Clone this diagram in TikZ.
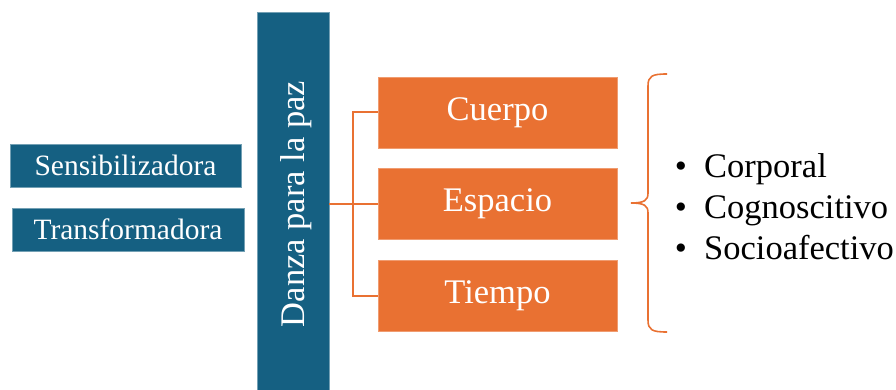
\documentclass[tikz,border=0pt]{standalone}
\usepackage{fontspec}
\setmainfont{Liberation Serif}
\definecolor{dblue}{HTML}{156082}
\definecolor{orng}{HTML}{E97132}
\begin{document}
\begin{tikzpicture}[x=1pt,y=-1pt,
  bluebox/.style={fill=dblue,draw=dblue!60!white,line width=0.6pt,text=white,inner sep=0pt,font=\fontsize{29.5}{32}\selectfont},
  orbox/.style={fill=orng,draw=orng!70!white,line width=0.6pt,text=white,inner sep=0pt,minimum width=239,minimum height=71,font=\fontsize{34.5}{38}\selectfont},
  conn/.style={draw=orng,line width=2pt},
  item/.style={anchor=base west,inner sep=0pt,font=\fontsize{34.5}{38}\selectfont},
  bul/.style={anchor=base,inner sep=0pt,font=\fontsize{34.5}{38}\selectfont}]
\useasboundingbox (0,0) rectangle (896,390);
% left boxes
\node[bluebox,minimum width=231,minimum height=43] (sens) at (125.5,165.5) {Sensibilizadora};
\node[bluebox,minimum width=232,minimum height=43] (trans) at (128,229.5) {Transformadora};
% vertical bar
\node[fill=dblue,draw=dblue!60!white,line width=0.6pt,inner sep=0pt,minimum width=72,minimum height=380] (bar) at (293,202) {};
\node[text=white,rotate=90,inner sep=0pt,font=\fontsize{34.5}{38}\selectfont] (bartext) at (296,204) {Danza para la paz};
% orange boxes
\node[orbox] (cue) at (497.5,112.5) {Cuerpo};
\node[orbox] (esp) at (497.5,203.5) {Espacio};
\node[orbox] (tie) at (497.5,295.5) {Tiempo};
% connectors
\draw[conn] (bar.east |- esp.west) -- (esp.west);
\draw[conn] (cue.west) -- ++(-25,0) |- (tie.west);
% brace
\coordinate (btip) at (631,203);
\draw[conn,line width=1.6pt] (667,74) .. controls (652,74) and (648,76) .. (648,86)
  -- (648,193) .. controls (648,200) and (645,203) .. (btip)
  .. controls (645,203) and (648,206) .. (648,213)
  -- (648,320) .. controls (648,330) and (652,332) .. (667,332);
% bullet list
\node[bul] (b1) at (681,178) {•};
\node[item] (t1) at (704,178) {Corporal};
\node[bul] (b2) at (681,218) {•};
\node[item] (t2) at (704,218) {Cognoscitivo};
\node[bul] (b3) at (681,259) {•};
\node[item] (t3) at (704,259) {Socioafectivo};
\end{tikzpicture}
\end{document}
